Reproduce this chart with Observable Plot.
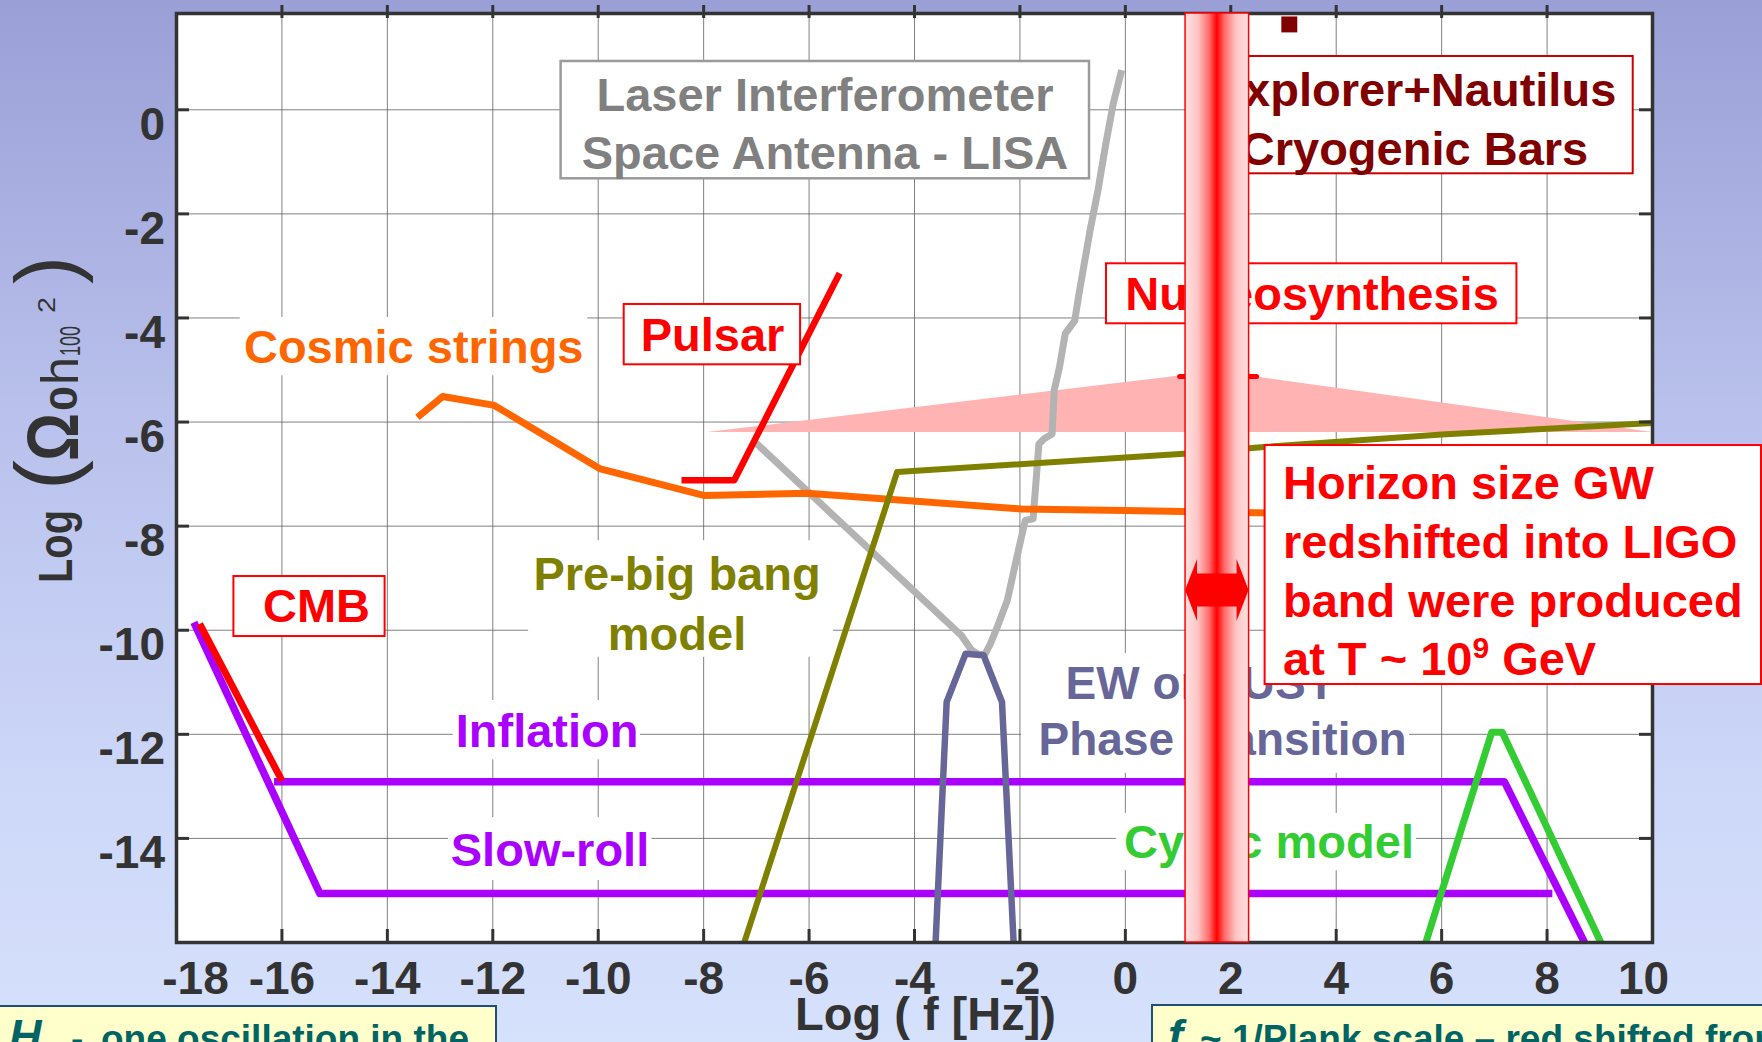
<!DOCTYPE html>
<html><head><meta charset="utf-8">
<script src="https://cdn.jsdelivr.net/npm/d3@7"></script>
<script src="https://cdn.jsdelivr.net/npm/@observablehq/plot@0.6"></script>
<style>
html,body{margin:0;padding:0;width:1762px;height:1042px;overflow:hidden;}
body{background:linear-gradient(to bottom,#9a9fd6 0%,#b9c1ec 40%,#cdd7f8 75%,#d6e1fc 100%);}
svg{display:block;}
</style></head><body><div id="chart"></div>
<script>
// ---------- axes ----------
const xDomain = [-18, 10];
const yDomain = [-16, 1.85];
const xGrid = [-16, -14, -12, -10, -8, -6, -4, -2, 0, 2, 4, 6, 8];
const yGrid = [0, -2, -4, -6, -8, -10, -12, -14];
const xTickMarks = [-16, -14, -12, -10, -8, -6, -4, -2, 0, 2, 4, 6, 8];
const xTickLabels = [-16, -14, -12, -10, -8, -6, -4, -2, 0, 2, 4, 6, 8];
const xFirstLabel = [-18];
const xLastLabel = [10];
const yTickLabels = [0, -2, -4, -6, -8, -10, -12, -14];

// ---------- series [log f, log Omega] ----------
const cmb = [[-17.56, -9.88], [-16.0, -12.89]];
const slowRoll = [[-17.67, -9.85], [-15.28, -15.06], [8.10, -15.06]];
const inflation = [[-16.15, -12.91], [7.19, -12.91], [8.71, -16.0]];
const cosmicStrings = [[-13.43, -5.91], [-12.95, -5.51], [-11.97, -5.68], [-9.96, -6.90], [-8.0, -7.41],
  [-6.03, -7.37], [-1.97, -7.67], [-0.02, -7.70], [3.5, -7.76]];
const pulsar = [[-8.42, -7.12], [-7.42, -7.12], [-5.42, -3.14]];
const lisa = [[-7.02, -6.39], [-3.11, -10.10], [-2.92, -10.38], [-2.78, -10.47], [-2.66, -10.46],
  [-2.56, -10.26], [-2.43, -9.94], [-2.24, -9.43], [-2.07, -8.65], [-1.90, -7.89], [-1.75, -7.86],
  [-1.64, -6.42], [-1.54, -6.32], [-1.39, -6.23], [-1.35, -5.39], [-1.25, -4.95], [-1.14, -4.30],
  [-0.96, -4.05], [-0.88, -3.54], [-0.77, -2.90], [-0.67, -2.32], [-0.52, -1.55], [-0.37, -0.65],
  [-0.23, 0.12], [-0.07, 0.76]];
const preBigBang = [[-7.23, -16.0], [-4.33, -6.96], [1.11, -6.61], [2.63, -6.48], [6.0, -6.24], [10.0, -6.02]];
const ewSusy = [[-3.60, -16.0], [-3.39, -11.38], [-3.03, -10.45], [-2.69, -10.48], [-2.34, -11.38], [-2.12, -16.0]];
const cyclic = [[5.70, -16.0], [6.95, -11.96], [7.15, -11.96], [9.02, -16.0]];
const horizonBand = [[-7.93, -6.20], [1.75, -5.03], [10.0, -6.20]];
const horizonBase = -6.20;
const nucleoLimit = [[1.03, -5.125], [2.49, -5.125]];
const explorerPoint = [[3.11, 1.64]];
const ligoBar = [{x1: 1.142, x2: 2.347}];
const ligoArrow = {x1: 1.142, x2: 2.347, y: -9.237};

// ---------- annotations (data coordinates) ----------
const bgPatches = [
  {x1: -16.79, x2: -10.20, y1: -3.99, y2: -5.11},
  {x1: -11.32, x2: -5.54, y1: -8.28, y2: -10.52},
  {x1: -12.75, x2: -9.20, y1: -11.35, y2: -12.49},
  {x1: -12.84, x2: -8.98, y1: -13.60, y2: -14.81},
  {x1: -1.97, x2: 5.39, y1: -10.45, y2: -12.75},
  {x1: -0.17, x2: 5.52, y1: -13.52, y2: -14.62}
];
const boxes = [
  {x1: -9.507, x2: -6.161, y1: -3.741, y2: -4.900, stroke: "#ff0000", w: 2},
  {x1: -10.704, x2: -0.680, y1: 0.928, y2: -1.326, stroke: "#9a9a9a", w: 2.5},
  {x1: -0.358, x2: 7.428, y1: -2.959, y2: -4.112, stroke: "#ff0000", w: 2},
  {x1: 1.331, x2: 9.634, y1: 1.024, y2: -1.230, stroke: "#cc0000", w: 2},
  {x1: -16.911, x2: -14.043, y1: -8.968, y2: -10.121, stroke: "#ff0000", w: 2}
];
const horizonBox = [{x1: 2.651, x2: 12.068, y1: -6.451, y2: -11.043}];
const labels = [
  {text: "Cosmic strings", x: -13.50, y: -4.567, color: "#ff6600"},
  {text: "Pulsar", x: -7.832, y: -4.355, color: "#ff0000"},
  {text: "Laser Interferometer\nSpace Antenna - LISA", x: -5.698, y: -0.231, color: "#808080", lh: 1.22},
  {text: "Nucleosynthesis", x: 3.541, y: -3.553, color: "#ff0000"},
  {text: "Explorer+Nautilus\nCryogenic Bars", x: 5.485, y: -0.134, color: "#800000", lh: 1.255},
  {text: "CMB", x: -15.344, y: -9.558, color: "#ff0000"},
  {text: "Pre-big bang\nmodel", x: -8.505, y: -9.43, color: "#808000", lh: 1.277},
  {text: "Inflation", x: -10.970, y: -11.96, color: "#aa00ff"},
  {text: "Slow-roll", x: -10.915, y: -14.234, color: "#aa00ff"},
  {text: "EW or SUSY", x: -1.135, y: -11.03, color: "#666699", anchor: "start", fs: 46},
  {text: "Phase Transition", x: -1.647, y: -12.12, color: "#666699", anchor: "start", fs: 46},
  {text: "Cyclic model", x: 2.725, y: -14.09, color: "#33cc33"}
];
const horizonLabel = [{text: "Horizon size GW\nredshifted into LIGO\nband were produced\nat T ~ 10\u2079 GeV", x: 2.991, y: -8.813}];
const xTitle = [{text: "Log ( f [Hz])", x: -3.791}];

const FONT = "'Liberation Sans', Arial, Helvetica, sans-serif";
const px = d => d[0], py = d => d[1];
const line = (data, stroke, w) => Plot.line(data, {x: px, y: py, stroke, strokeWidth: w, strokeLinecap: "butt", strokeLinejoin: "round"});

const plot = Plot.plot({
  width: 1762, height: 1042,
  marginLeft: 176, marginRight: 110, marginTop: 13, marginBottom: 100,
  x: {domain: xDomain},
  y: {domain: yDomain},
  style: {background: "none", fontFamily: FONT, overflow: "visible"},
  marks: [
    Plot.frame({fill: "white", stroke: null}),
    Plot.gridX(xGrid, {stroke: "#555", strokeOpacity: 0.75, strokeWidth: 1}),
    Plot.gridY(yGrid, {stroke: "#555", strokeOpacity: 0.75, strokeWidth: 1}),
    Plot.rect(bgPatches, {x1: "x1", x2: "x2", y1: "y1", y2: "y2", fill: "white"}),
    Plot.areaY(horizonBand, {x: px, y1: horizonBase, y2: py, fill: "#ffb3b3"}),
    line(slowRoll, "#aa00ff", 7.5),
    line(inflation, "#aa00ff", 7.5),
    line(cmb, "#ff0000", 7),
    line(lisa, "#b3b3b3", 7),
    line(cosmicStrings, "#ff6600", 7),
    line(preBigBang, "#808000", 6),
    line(ewSusy, "#666699", 6.5),
    line(pulsar, "#ff0000", 6.5),
    line(cyclic, "#33cc33", 7),
    Plot.line(nucleoLimit, {x: px, y: py, stroke: "#ff0000", strokeWidth: 5}),
    Plot.dot(explorerPoint, {x: px, y: py, symbol: "square", r: 9, fill: "#800000", stroke: null}),
    ...boxes.map(b => Plot.rect([b], {x1: "x1", x2: "x2", y1: "y1", y2: "y2", fill: "white", stroke: b.stroke, strokeWidth: b.w})),
    ...labels.map(l => Plot.text([l], {x: "x", y: "y", text: "text", fill: l.color, textAnchor: l.anchor || "middle",
      lineAnchor: "middle", lineHeight: l.lh || 1, fontSize: l.fs || 47, fontWeight: "bold"})),
    Plot.frame({stroke: "#333", strokeWidth: 3.5}),
    Plot.ruleX(xTickMarks, {stroke: "#333", strokeWidth: 3, insetTop: 916}),
    Plot.ruleX(xTickMarks, {stroke: "#333", strokeWidth: 3, insetBottom: 924, insetTop: -8}),
    Plot.ruleY(yGrid, {stroke: "#333", strokeWidth: 3, insetRight: 1463}),
    Plot.ruleY(yGrid, {stroke: "#333", strokeWidth: 3, insetLeft: 1463}),
    Plot.rect(ligoBar, {x1: "x1", x2: "x2", y1: yDomain[0], y2: yDomain[1], fill: "url(#barGrad)", stroke: "#ff0000", strokeWidth: 1.5}),
    Plot.rect(horizonBox, {x1: "x1", x2: "x2", y1: "y1", y2: "y2", fill: "white", stroke: "#ff0000", strokeWidth: 2}),
    Plot.text(horizonLabel, {x: "x", y: "y", text: "text", fill: "#ff0000", textAnchor: "start", lineAnchor: "middle",
      lineHeight: 1.247, fontSize: 47, fontWeight: "bold", className: "horizon-label"}),
    Plot.axisX(xTickLabels, {anchor: "bottom", tickSize: 0, tickPadding: 19, fontSize: 46, fontWeight: "bold", color: "#333", tickFormat: d => String(d), label: null}),
    Plot.axisX(xFirstLabel, {anchor: "bottom", tickSize: 0, tickPadding: 19, fontSize: 46, fontWeight: "bold", color: "#333", tickFormat: d => String(d), label: null, dx: 19}),
    Plot.axisX(xLastLabel, {anchor: "bottom", tickSize: 0, tickPadding: 19, fontSize: 46, fontWeight: "bold", color: "#333", tickFormat: d => String(d), label: null, dx: -9}),
    Plot.axisY(yTickLabels, {anchor: "left", tickSize: 0, tickPadding: 11.5, fontSize: 46, fontWeight: "bold", color: "#333", tickFormat: d => String(d), label: null, dy: 15}),
    Plot.text(xTitle, {x: "x", text: "text", frameAnchor: "bottom", dy: 72, lineAnchor: "middle", fontSize: 47, fontWeight: "bold", fill: "#333"})
  ]
});
document.getElementById("chart").append(plot);

const svg = d3.select(plot);
const X = v => plot.scale("x").apply(v);
const Y = v => plot.scale("y").apply(v);

// gradient for the LIGO bar
const defs = svg.insert("defs", ":first-child");
const grad = defs.append("linearGradient").attr("id", "barGrad").attr("x1", 0).attr("x2", 1).attr("y1", 0).attr("y2", 0);
[[0, "#ffe2e2"], [0.2, "#ffc4c4"], [0.38, "#ff6a6a"], [0.5, "#ff0000"], [0.62, "#ff6a6a"], [0.8, "#ffc4c4"], [1, "#ffe2e2"]]
  .forEach(([o, c]) => grad.append("stop").attr("offset", o).attr("stop-color", c));

// real superscript for 10^9
svg.selectAll("tspan").each(function () {
  const s = this.textContent;
  if (s.includes("\u2079")) {
    const [a, b] = s.split("\u2079");
    const t = d3.select(this);
    t.text(a);
    t.append("tspan").attr("dy", -17).attr("font-size", 30).text("9");
    t.append("tspan").attr("dy", 17).text(b);
  }
});

// double arrow inside the bar
{
  const xa = X(ligoArrow.x1), xb = X(ligoArrow.x2), yc = Y(ligoArrow.y);
  const hl = 12, hh = 31, sh = 16.5;
  const p = [[xa, yc], [xa + hl, yc - hh], [xa + hl, yc - sh], [xb - hl, yc - sh], [xb - hl, yc - hh], [xb, yc],
    [xb - hl, yc + hh], [xb - hl, yc + sh], [xa + hl, yc + sh], [xa + hl, yc + hh]];
  svg.append("path").attr("d", "M" + p.map(q => q.join(",")).join("L") + "Z").attr("fill", "#ff0000");
}

// y axis title, rotated
{
  const g = svg.append("g").attr("transform", "rotate(-90)").attr("fill", "#333")
    .attr("text-anchor", "start").style("font-family", FONT);
  const pieces = [
    {t: "Log", yb: 583, len: 73, fs: 49, fw: "bold", base: 72},
    {t: "(", yb: 490, len: 30, fs: 86, fw: "normal", base: 75},
    {t: "\u03A9", yb: 461, len: 48, fs: 72, fw: "bold", base: 78},
    {t: "0", yb: 411, len: 25, fs: 38, fw: "bold", base: 77},
    {t: "h", yb: 385, len: 28, fs: 52, fw: "normal", base: 78},
    {t: "100", yb: 356, len: 30, fs: 30, fw: "normal", base: 80},
    {t: "2", yb: 313, len: 16, fs: 24, fw: "normal", base: 55},
    {t: ")", yb: 284, len: 28, fs: 86, fw: "normal", base: 75}
  ];
  pieces.forEach(p => g.append("text").attr("x", -p.yb).attr("y", p.base).attr("font-size", p.fs)
    .attr("font-weight", p.fw).attr("textLength", p.len).attr("lengthAdjust", "spacingAndGlyphs").text(p.t));
}

// bottom note boxes (cut by the page edge)
{
  const teal = "#006464";
  svg.append("rect").attr("x", -2).attr("y", 1006).attr("width", 498).attr("height", 60)
    .attr("fill", "#ffffcc").attr("stroke", "#1f4e79").attr("stroke-width", 2);
  const t1 = svg.append("text").attr("y", 1051).attr("fill", teal).attr("font-weight", "bold")
    .attr("text-anchor", "start").style("font-family", FONT);
  t1.append("tspan").attr("x", 9).attr("font-size", 45).attr("font-style", "italic").text("H");
  t1.append("tspan").attr("x", 71).attr("font-size", 37).text("-");
  t1.append("tspan").attr("x", 101).attr("font-size", 37).text("one oscillation in the");
  svg.append("rect").attr("x", 1152).attr("y", 1005).attr("width", 620).attr("height", 60)
    .attr("fill", "#ffffcc").attr("stroke", "#1f4e79").attr("stroke-width", 2);
  const t2 = svg.append("text").attr("y", 1051).attr("fill", teal).attr("font-weight", "bold")
    .attr("text-anchor", "start").style("font-family", FONT);
  t2.append("tspan").attr("x", 1168).attr("font-size", 45).attr("font-style", "italic").text("f");
  t2.append("tspan").attr("x", 1200).attr("font-size", 37).text("~ 1/Plank scale \u2013 red shifted from");
}
</script></body></html>
